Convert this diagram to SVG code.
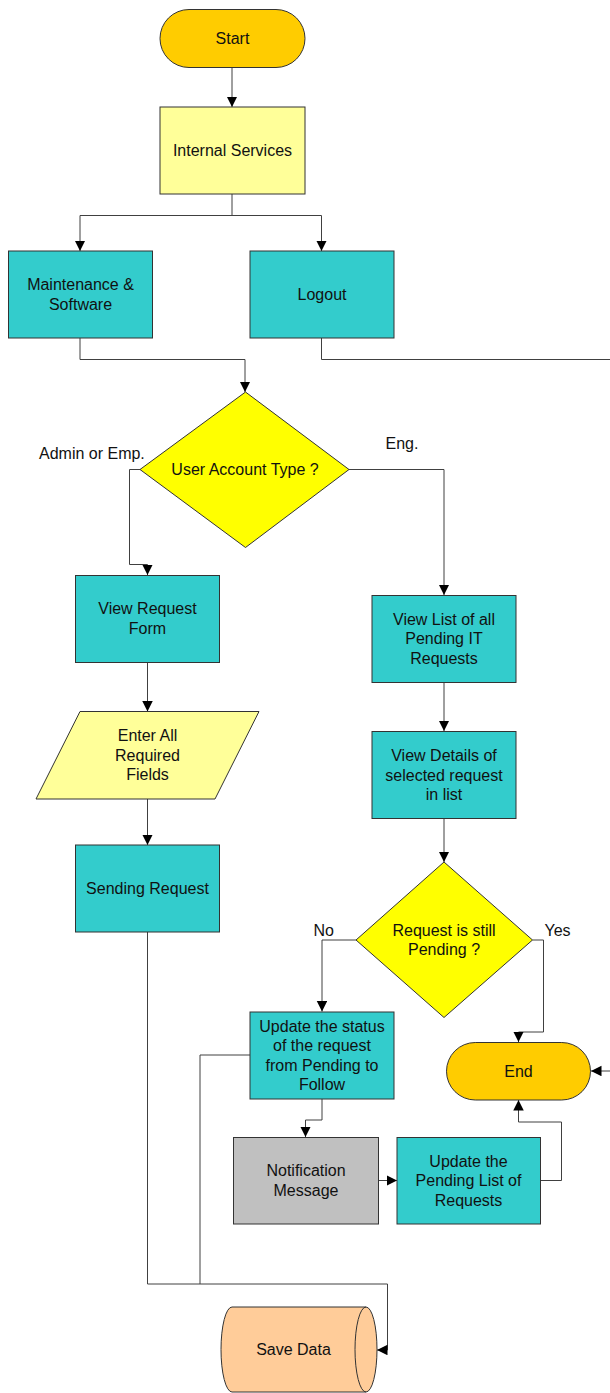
<svg xmlns="http://www.w3.org/2000/svg" width="610" height="1393" viewBox="0 0 610 1393">
<style>
  .shape { stroke: #333; stroke-width: 1; }
  .proc { fill: #33CCCC; }
  .term { fill: #FFCC00; }
  .note { fill: #FFFF99; }
  .dec { fill: #FFFF00; }
  .gray { fill: #C0C0C0; }
  .store { fill: #FFCC99; }
  text { font-family: "Liberation Sans", Arial, sans-serif; font-size: 16px; fill: #111; text-anchor: middle; }
  text.lbl { text-anchor: start; }
  .conn path { fill: none; stroke: #404040; stroke-width: 1; marker-end: url(#arrow); }
  .conn path.plain { marker-end: none; }
</style>
<defs>
  <marker id="arrow" markerUnits="userSpaceOnUse" markerWidth="11" markerHeight="11" refX="10.5" refY="5.25" orient="auto">
    <path d="M0,0 L10.5,5.25 L0,10.5 z" fill="#000"/>
  </marker>
</defs>
<rect width="610" height="1393" fill="#fff"/>

<g id="connectors" class="conn">
  <path d="M232,67.5 V107"/>
  <path d="M232,194 V215.5 H80 V251"/>
  <path d="M232,215.5 H321.5 V251"/>
  <path d="M80,338 V359.5 H245 V392"/>
  <path d="M321.5,338 V359.5 H620 V1071 H591"/>
  <path d="M140,469.5 H129.5 V564.5 H147.5 V575"/>
  <path d="M349,469.5 H444 V595"/>
  <path d="M147.5,662 V711.5"/>
  <path d="M147.5,799 V845"/>
  <path d="M444,682.5 V731"/>
  <path d="M444,818.5 V862"/>
  <path d="M356,940 H322 V1011.5"/>
  <path d="M532.5,940 H543.5 V1032 H518.5 V1042"/>
  <path d="M322,1099 V1120 H305.5 V1137"/>
  <path d="M378.5,1180.5 H397"/>
  <path d="M540.5,1180.5 H561.5 V1122 H518.5 V1100"/>
  <path d="M147.5,932 V1284 H387.5 V1350 H377"/>
  <path class="plain" d="M250,1055 H200 V1284"/>
</g>

<g id="start">
  <rect class="shape term" x="160" y="9.5" width="145" height="58" rx="29" ry="29"/>
  <text x="232.5" y="44">Start</text>
</g>
<g id="internal-services">
  <rect class="shape note" x="160" y="107" width="145" height="87"/>
  <text x="232.5" y="156">Internal Services</text>
</g>
<g id="maintenance">
  <rect class="shape proc" x="8.5" y="251" width="144" height="87"/>
  <text x="80.5" y="290">Maintenance &amp;</text>
  <text x="80.5" y="309.5">Software</text>
</g>
<g id="logout">
  <rect class="shape proc" x="250" y="251" width="144" height="87"/>
  <text x="322" y="300">Logout</text>
</g>
<g id="user-account-type">
  <polygon class="shape dec" points="245.5,392 349,469.5 245.5,547.5 140,469.5"/>
  <text x="245" y="475">User Account Type ?</text>
</g>
<g id="label-admin">
  <text class="lbl" x="39" y="459">Admin or Emp.</text>
</g>
<g id="label-eng">
  <text class="lbl" x="385.5" y="449">Eng.</text>
</g>
<g id="view-request-form">
  <rect class="shape proc" x="75.5" y="575.5" width="144" height="87"/>
  <text x="147.5" y="614">View Request</text>
  <text x="147.5" y="633.5">Form</text>
</g>
<g id="enter-fields">
  <polygon class="shape note" points="80,711.5 259,711.5 215,799 36,799"/>
  <text x="147.5" y="741">Enter All</text>
  <text x="147.5" y="760.5">Required</text>
  <text x="147.5" y="780">Fields</text>
</g>
<g id="sending-request">
  <rect class="shape proc" x="75.5" y="845" width="144" height="87"/>
  <text x="147.5" y="894">Sending Request</text>
</g>
<g id="view-list">
  <rect class="shape proc" x="372" y="595.5" width="144" height="87"/>
  <text x="444" y="624.5">View List of all</text>
  <text x="444" y="644">Pending IT</text>
  <text x="444" y="663.5">Requests</text>
</g>
<g id="view-details">
  <rect class="shape proc" x="372" y="731.5" width="144" height="87"/>
  <text x="444" y="761">View Details of</text>
  <text x="444" y="780.5">selected request</text>
  <text x="444" y="800">in list</text>
</g>
<g id="still-pending">
  <polygon class="shape dec" points="444,862 532.5,940 444,1017.5 356,940"/>
  <text x="444" y="936">Request is still</text>
  <text x="444" y="955">Pending ?</text>
</g>
<g id="label-no">
  <text class="lbl" x="313.5" y="936">No</text>
</g>
<g id="label-yes">
  <text class="lbl" x="544.5" y="936">Yes</text>
</g>
<g id="update-status">
  <rect class="shape proc" x="250" y="1012" width="144" height="87"/>
  <text x="322" y="1031.5">Update the status</text>
  <text x="322" y="1051">of the request</text>
  <text x="322" y="1070.5">from Pending to</text>
  <text x="322" y="1090">Follow</text>
</g>
<g id="end">
  <rect class="shape term" x="446.5" y="1042.5" width="144" height="57.5" rx="28.75" ry="28.75"/>
  <text x="518.5" y="1076.5">End</text>
</g>
<g id="notification">
  <rect class="shape gray" x="233.5" y="1137.5" width="145" height="86.5"/>
  <text x="306" y="1176">Notification</text>
  <text x="306" y="1195.5">Message</text>
</g>
<g id="update-pending">
  <rect class="shape proc" x="397" y="1137.5" width="143.5" height="86.5"/>
  <text x="468.5" y="1166.5">Update the</text>
  <text x="468.5" y="1186">Pending List of</text>
  <text x="468.5" y="1205.5">Requests</text>
</g>
<g id="save-data">
  <path class="shape store" d="M232,1307 H366 A11,42.5 0 0 1 366,1392 H232 A11,42.5 0 0 1 232,1307 Z"/>
  <path class="shape" fill="none" d="M366,1307 A11,42.5 0 0 0 366,1392"/>
  <text x="293.5" y="1355">Save Data</text>
</g>
</svg>
